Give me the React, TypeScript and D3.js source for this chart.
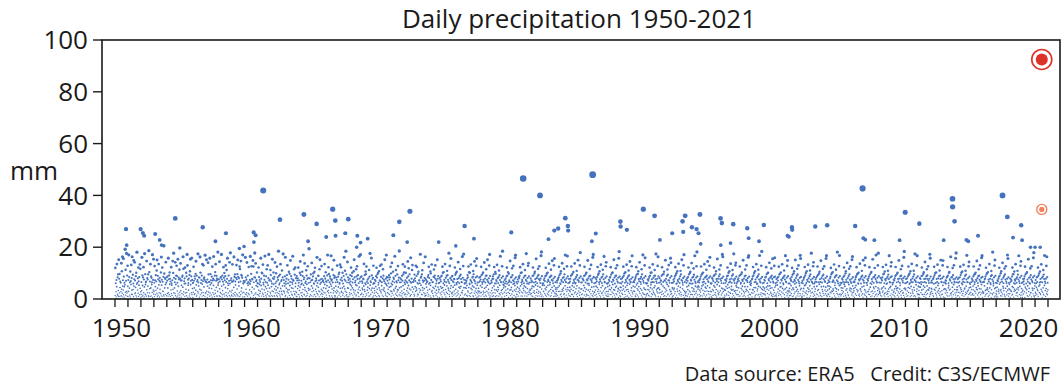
import React from "react";
import * as d3 from "d3";

const TITLE = "Daily precipitation 1950-2021";
const Y_LABEL = "mm";
const CREDIT = "Data source: ERA5   Credit: C3S/ECMWF";
const Y_TICKS = [0, 20, 40, 60, 80, 100];
const DECADE_LABELS = [1950, 1960, 1970, 1980, 1990, 2000, 2010, 2020];
const FIRST_YEAR = 1950;
const LAST_YEAR = 2021;

// Each character is one sampled day (spread through its year);
// coarse value = index in CODE * MM_PER_STEP, refined by a digit from DAILY_FINE * FINE_STEP (mm)
const CODE = "0123456789abcdefghijklmnopqrstuvwxyz";
const MM_PER_STEP = 0.6;
const FINE_STEP = 0.06;
const DAILY_SAMPLES = [
  "2k0a41c7m03e2f51p0d3g17b0a42n6h13r8c5q2e17a09w4i2b0t53f1l8",
  "1c4s0e72a1h0b9l3d5r20f6a1o8c0n3b47e2g19u0a5d3k1b8e02m6j41",
  "03b5q1f82d0k4c17t03g9a2b1o50d4c8f21v0h36b1m07e2d9a4s10c5p3",
  "4a1l0c82f5b0i3p17e2c0m94b1d6a03h2r8c1k0b54e2y1g07d3c9n0a2e",
  "0b3e71q4c0f2h9d1b05k3a82c0o6g1t4d07a3n2c9f0l1e5a2p38d0c1i4",
  "2d0m5b18c3e0f7r2j40b9d1k3a06g2e4s0l1c8a5d02f3h1p9b0e4q2c6a",
  "1a4k0b72e3d0g5o91f2b0c4t3a8e01d6r2h0a5c3f19m0b4l2d7e0c1s3b",
  "3b0p5a1c82n0f4a7b1q39g0c2a6e1k0b4d8r2c01f5h3m0b7e2d1c4u9a0",
  "0c2o6b14d0e3s8c1f52b0k9d3g1c0e7l4b2i0d1q6a38f0b2n5a1t0c4d2",
  "2a5m0b13c7r0e2f4b91d0l3c6g2p1e0a8d4k1j0b2o5f7e0d3s1a9b4x0a",
  "1b3q0d62c4n0a1f8b3k02a5c9r1b0g4l3d7c0o1k2a6e0t3d1m4b8c0h2a",
  "7a02k5e19c3b40q8d1h6g03m2a91f5c0r47b2e16j0a3l58d0s2b7c14i",
  "3f0b72a5p1d04h9c2e61n3a08g5b2k41d7c0u3e95a2f1m60b4c3i28d0t5",
  "0c5a38e1q2b97d0f4l16a3c0h52g8b1o04e7d3a29r6c1b5j03f2k8a4d1",
  "4e1b06d3k8a2c51g7o0f39b2a4h1e60s8c3d2m75a0b1i4f92c3l0d6a5w0",
  "1d6a30f2b8n4c07e1g5a93h2k0b61d4c8q3a02f7e5b1j4p90c2a6l3d1",
  "5b2c07a4e1m93d0h6b2a18f4s0c5k3g72a1e0d94r8b2c6i1a03f5o7d2e14",
  "2a8d03c5l1b4e70f2h9a3m6c1k05d4b7g2a30e8q1c6i5b0u2f43a1n7d0",
  "6c1a04d2f9b5k38e0g7a2c16h4p0d3a5b91j2e8l0c4f63a1r7d0b5s2e3",
  "0e3b7a51d2c8m06f4a1h9g3k2b05c7a4d10i6e2t8b3a5q0f74c1d9l2a6",
  "3a5c02b8e4k1d6f03g9a2h71c5l0b4e3m8a62d0j1f5c7b4p0a23d9s1e8",
  "1b4d60a3f7c2e05k8g1a4n39b0h2d6c5a1r07e3i8b2a4f61l5c0d3u7a2",
  "4d0a7c25e3b1m8f04h6a2k9c3g10b5d2a7o4e8j3c0f61b2q5a3d0i7l4b",
  "0a6c31f2d8b4l07e5k1a3g92h0c6b4a1s5d8e03f2i7c5a0n4b6d13r2c9",
  "2c7a04b5e1f3k9d06a2h8g1c4m05b3a72e1j6d0f4l8c2a5b30p1d7e4a6",
  "5a1d03c8b2e6f41k7g0a5h3c9b2m06d1a4e8i3f0c7b5t2a1l4d60q8c3e",
  "31e4b70a2d5c8k3f06g1a9h4c2b5n03d7a1e6j2f8c0b4a3r5d1l0s7c2a9",
  "073c0a6b28d1f5e4k07h2a9g3c1m6b04a5d8e2i1f7c3o0b5a2d6l4q1e8a3",
  "5146a2d05b3e8c1k4f07a9g2h5c3b1n60d4a2e7j1f5c8p0b3a6d2l9s1e4a0",
  "20b5a3c71e4d2f8k06a3h1g9c5b2m04d7a6e1i3f8c2r0b4a5d1l6u3e9a7",
  "804c1a07d5b3e2k9f06h4a1g8c3b5o02d6a7e3j1f4c9l0b2a5d8q1s4e6a3",
  "12a7c04b1e6d3f5k08g2a4h9c1b3m60d5a8e2i4f7c3t0b1a6d4l2n9e5a0",
  "4625d0a3c62b8e1k4f07a5g3h1c9b2p04d6a1e8j3f5c2l0b7a4d3r1u6e2a8",
  "091a4c08d3b6e2k5f71g0a3h8c4b2m05d9a1e6i2f3c7o0b5a4d1l8q3e2a6",
  "37153b6a02c7d4e1k8f05a2g9h3c1b4n60d5a7e2j3f1c8s0b6a2d4l1r7e5a3",
  "0c2a57b4d1e6k3f08g2a5h1c7b3m09d4a6e2i8f1c3p0b5a7d2l4t1e6a0",
  "26a3d01c5b8e2k7f04a1g6h3c2b9o05d2a8e4j1f6c3l0b7a2d5q1s3e8a4",
  "402d5a08c3b1e7k4f06g3a9h2c5b1m70d3a4e8i2f5c1r0b6a3d7l2n4e1a9",
  "1834a1c06b8d3e5k2f07a4g1h9c3b6p02d5a1e7j3f8c2l0b4a6d1q5u3e2a7",
  "51c7a03d5b2e8k6f01g4a3h7c1b5m08d2a6e4i1f3c9o0b2a5d7l1r4e3a8",
  "05b0a4c72d1e3k9f06a2g5h1c8b4n03d6a9e2j5f1c4s0b3a7d2l6q1e5a2",
  "2930a3c68b2d5e1k4f07g9a1h3c6b2m05d4a7e3i8f2c1t0b5a4d6l3r1e7a0",
  "3d6a01c4b9e2k5f08a3g1h7c2b4o06d1a5e9j2f3c8l0b1a6d4q2n5e3a1",
  "716a2c05b7d3e4k1f09g2a6h4c1b8m03d5a2e7i4f1c3p0b6a9d2l5s1e4a3",
  "0422c4a07d1b6e3k8f05a1g4h2c9b3n07d2a5e1j6f4c2r0b8a3d5l1u7e2a6",
  "80b7a3c51d4e2k6f08g1a5h9c3b2m04d7a1e6i2f5c8o0b3a4d1l7q2e5a9",
  "14a1d06c2b5e8k3f07a4g2h6c1b9p05d3a2e4j8f1c5l0b2a7d3s6r1e4a0",
  "61251c5a08b3d2e6k9f04g2a7h1c4b3m06d8a5e1i3f6c2t0b4a1d5l3n8e2a7",
  "5a3c02d7b1e4k2f09a6g3h5c8b1o04d2a3e7j1f4c6l0b5a8d2q4r1e3a6",
  "392b8a04c1d6e3k5f07g4a1h2c7b3m09d5a6e2i8f3c1s0b7a2d4l6u1e5a3",
  "0730a5c73b2d4e1k7f06a3g8h1c5b2n08d6a4e3j2f7c1p0b3a5d1l4q7e2a8",
  "23c1a09d4b6e2k3f05g7a2h8c4b1m06d3a9e5i2f1c6r0b4a7d2l5o3e1a4",
  "5026a4d02c8b3e5k1f07a2g6h3c9b4p01d7a5e2j6f3c4l0b1a8d3s5q2e6a1",
  "11b3a05c6d2e8k4f09g3a5h1c2b7m04d6a1e8i5f2c3t0b6a4d9l1n3e7a2",
  "4a6c01d3b8e2k5f06a1g9h4c3b2o07d1a6e4j3f8c2l0b5a3d7q4r2e1a5",
  "830c2a86b1d4e7k3f05g1a4h6c5b3m02d8a7e1i4f6c3u0b2a5d1l8s2e3a9",
  "2072a5d03c7b4e1k9f08a3g2h5c1b6n04d3a2e9j1f5c7l0b4a6d2p3r8e1a4",
  "65b1a07c3d8e2k6f04g5a9h2c3b1m06d5a4e2i7f3c1o0b8a3d6l2q5e4a1",
  "1a8c04b5d3e6k2f07a1g4h9c2b5p03d7a6e1j4f2c8s0b3a1d5l7t2e6a3",
  "4403d2a06c1b7e4k5f08g2a3h1c6b4m09d2a5e3i1f6c4r0b7a2d8l3n1e5a0",
  "920a4c52b6d1e3k8f06a5g2h7c4b1o03d6a8e4j2f1c5l0b3a4d2q6u1e7a5",
  "06c3a01d5b2e7k4f09g6a1h3c8b2m05d4a3e1i7f5c2t0b1a9d4l6r3e2a8",
  "31572a1d07c4b9e5k3f02a6g8h1c3b7n04d1a2e5j8f3c6l0b5a7d1s2q4e3a6",
  "4b6a03c2d1e9k6f05g3a7h2c1b4m08d5a3e6i2f4c1p0b2a5d3l8o1e6a0",
  "601a3c69b5d2e4k1f07a8g2h5c6b3r02d4a1e7j5f2c9l0b6a3d2q1t5e4a7",
  "25c2a04d8b1e3k7f06g4a2h9c3b5m01d6a7e2i4f8c3s0b4a1d5l2n7e3a9",
  "07420a6d02c3b8e5k2f09a4g1h3c7b6o05d2a8e3j1f6c4l0b2a6d9q3r1e5a4",
  "3b4a08c1d5e2k6f03g7a5h1c4b2m07d3a9e1i5f3c2u0b8a4d1l6p2e7a3",
  "512a7c01b4d6e3k9f05a2g6h4c1b3n08d7a5e3j2f1c6l0b4a2d8s5q3e1a6",
  "0936d1a05c4b2e8k3f07g1a4h6c9b5m02d3a6e4i1f7c5r0b3a8d2l1o4e6a2",
  "41a5c03b9d4e1k7f06a3g5h2c8b1p04d6a2e9j3f4c1l0b7a5d3q2t6e1a8",
  "24c3a07d2b6e5k1f08g4a9h3c2b6m05d1a4e7i3f2c8s0b5a1d6l3r4e2a5",
];
// Fine digits per year (cycled along the year's samples)
const DAILY_FINE = [
  "30817429561038472", "72946105837264915", "51038627491506382", "94725108362947150", "28561930742815063",
  "61493728053916274", "05372819640527318", "83920516374285901", "47105362891473620", "19638274051926843",
  "56281937405628190", "90463718526094371", "34859201673481592", "72018465932701846", "18594730265815397",
  "63270581942637058", "45916283705491628", "07381946520738194", "92657108433926571", "26740395187462039",
  "81539260741583926", "58092714365809271", "13678502947136850", "69421875306942187", "40785136294078513",
  "95163840275916384", "27934618502793461", "84210596372842059", "36597281048365972", "01846392751018463",
  "75328049163753280", "48075163928480751", "12963475080129634", "67419208356674192", "53801746923538017",
  "29154637089291546", "86732015498867320", "31468592704314685", "70295841367702958", "15840273619158402",
  "62517938046625179", "08392651474083926", "94076312859940763", "37651489203376514", "80123756948801237",
  "43986027515439860", "76204819363762048", "21579364806215793", "59041832679590418", "04768291530047682",
  "98315740286983157", "32847106594328471", "65190528437651905", "17632904851176329", "89456173026894561",
  "42709835162427098", "06283519740062835", "73518046297735180", "25974680315259746", "91036257488910362",
  "38762401953387624", "64925873102649258", "10587314269105873", "87341692051873416", "52169048737521690",
  "09824736512098247", "46358912074463589", "71093568245710935", "23716084591237160", "85402197368854021",
  "60879325416608793", "34261759803342617",
];

// Heavier days: decimal year and mm
const HEAVY_YEARS = [
  1950.85, 1950.9, 1951.98, 1952.15, 1952.25, 1953.1, 1953.45, 1953.6, 1954.65, 1955.0,
  1956.77, 1957.75, 1958.56, 1959.6, 1960.7, 1960.85, 1960.72, 1961.44, 1962.73, 1964.58,
  1964.9, 1965.56, 1966.3, 1966.8, 1967.0, 1967.02, 1967.77, 1968.0, 1968.7, 1968.65,
  1969.5, 1968.95, 1971.48, 1971.94, 1972.55, 1972.76, 1974.98, 1976.3, 1976.98, 1977.7,
  1980.58, 1981.5, 1982.8, 1983.45, 1983.9, 1984.2, 1984.75, 1984.95, 1984.97, 1986.86,
  1987.1, 1986.8, 1989.0, 1989.02, 1989.5, 1990.77, 1991.64, 1992.05, 1993.0, 1993.8,
  1994.0, 1993.85, 1994.52, 1994.88, 1995.03, 1995.14, 1995.2, 1996.73, 1996.83, 1996.75,
  1997.71, 1997.5, 1998.79, 1998.9, 2000.07, 1999.7, 2001.9, 2002.0, 2002.24, 2002.26,
  2004.04, 2004.96, 2007.12, 2007.69, 2007.75, 2007.9, 2008.6, 2010.55, 2010.98, 2012.07,
  2013.95, 2014.63, 2014.64, 2014.79, 2015.7, 2015.85, 2016.6, 2018.49, 2018.86, 2019.3,
  2019.93, 2020.0, 2020.65, 2021.0, 2021.4,
];
const HEAVY_MM = [
  27.0, 20.8, 27.0, 25.5, 24.4, 25.1, 22.8, 20.8, 31.1, 19.7,
  27.7, 22.3, 25.4, 19.5, 25.7, 24.6, 22.0, 41.9, 30.6, 32.6,
  22.3, 29.0, 23.9, 34.7, 30.3, 24.4, 25.4, 30.8, 24.4, 20.0,
  23.3, 21.8, 24.6, 29.8, 22.0, 33.9, 22.0, 20.5, 28.2, 23.3,
  25.7, 46.5, 40.0, 23.1, 26.4, 27.2, 31.2, 28.2, 26.4, 48.0,
  25.3, 22.3, 29.9, 28.0, 26.7, 34.7, 32.1, 22.8, 25.4, 30.0,
  32.1, 25.9, 27.7, 27.0, 25.4, 32.6, 21.3, 31.1, 29.3, 20.8,
  28.9, 21.6, 27.3, 23.5, 28.6, 22.3, 24.4, 24.0, 27.7, 26.7,
  28.0, 28.5, 28.2, 42.7, 23.5, 22.9, 22.7, 22.7, 33.5, 29.1,
  22.7, 38.7, 35.6, 30.0, 22.8, 22.3, 24.4, 40.0, 31.7, 23.7,
  28.5, 22.7, 20.0, 20.0, 20.0,
];

// Highlighted 2021 days
const RECORD_DAY = { year: 2021.52, mm: 92.5 };
const SECOND_DAY = { year: 2021.52, mm: 34.6 };

const BLUE = "#4472bd";
const RED = "#dc3228";
const ORANGE = "#f2835f";
const INK = "#1a1a1a";
const FONT = "'Open Sans', 'DejaVu Sans', sans-serif";

export default function App() {
  const W = 1063;
  const H = 386;
  const frame = { left: 102, right: 1060, top: 40, bottom: 299 };

  const x = d3.scaleLinear().domain([FIRST_YEAR, LAST_YEAR + 1]).range([115, 1048]);
  const y = d3.scaleLinear().domain([0, 100]).range([frame.bottom, frame.top]);
  const r = d3.scaleLinear().domain([0, 50]).range([0.6, 3.5]);

  const body = DAILY_SAMPLES.flatMap((s, yi) => {
    const fine = DAILY_FINE[yi];
    return s.split("").map((ch, i) => {
      const idx = CODE.indexOf(ch);
      const f = idx === 0 ? 0 : +fine[i % fine.length];
      return {
        t: FIRST_YEAR + yi + (i + 0.5) / s.length,
        v: idx * MM_PER_STEP + f * FINE_STEP,
      };
    });
  });
  const heavy = HEAVY_YEARS.map((t, i) => ({ t, v: HEAVY_MM[i] }));
  const yearTicks = d3.range(FIRST_YEAR, LAST_YEAR + 2);

  return (
    <svg
      width={W}
      height={H}
      style={{ position: "absolute", left: 0, top: 0, background: "#fff" }}
      fontFamily={FONT}
    >
      <text x={579} y={28} textAnchor="middle" fontSize={26} fill={INK}>
        {TITLE}
      </text>

      <g>
        {body.map((d, i) => (
          <circle key={"b" + i} cx={x(d.t)} cy={y(d.v)} r={r(d.v)} fill={BLUE} />
        ))}
        {heavy.map((d, i) => (
          <circle key={"h" + i} cx={x(d.t)} cy={y(d.v)} r={r(d.v)} fill={BLUE} />
        ))}
      </g>

      <g>
        <circle cx={x(SECOND_DAY.year)} cy={y(SECOND_DAY.mm)} r={5} fill="none" stroke={ORANGE} strokeWidth={1.4} />
        <circle cx={x(SECOND_DAY.year)} cy={y(SECOND_DAY.mm)} r={2.6} fill={ORANGE} />
        <circle cx={x(RECORD_DAY.year)} cy={y(RECORD_DAY.mm)} r={10} fill="#fff" stroke={RED} strokeWidth={1.6} />
        <circle cx={x(RECORD_DAY.year)} cy={y(RECORD_DAY.mm)} r={6} fill={RED} />
      </g>

      <rect
        x={frame.left}
        y={frame.top}
        width={frame.right - frame.left}
        height={frame.bottom - frame.top}
        fill="none"
        stroke={INK}
        strokeWidth={1.6}
      />

      <g>
        {Y_TICKS.map((t) => (
          <g key={"y" + t}>
            <line x1={93} x2={frame.left} y1={y(t)} y2={y(t)} stroke={INK} strokeWidth={1.4} />
            <text x={88} y={y(t)} dy="0.35em" textAnchor="end" fontSize={26} fill={INK}>
              {t}
            </text>
          </g>
        ))}
        <text x={10} y={180} fontSize={26} fill={INK}>
          {Y_LABEL}
        </text>
      </g>

      <g>
        {yearTicks.map((t) => (
          <line key={"x" + t} x1={x(t)} x2={x(t)} y1={frame.bottom} y2={frame.bottom + 8} stroke={INK} strokeWidth={1.3} />
        ))}
        {DECADE_LABELS.map((t) => (
          <text key={"l" + t} x={x(t + 0.5)} y={337} textAnchor="middle" fontSize={26} fill={INK}>
            {t}
          </text>
        ))}
      </g>

      <text x={1050} y={381} textAnchor="end" fontSize={20} fill={INK} style={{ whiteSpace: "pre" }}>
        {CREDIT}
      </text>
    </svg>
  );
}
